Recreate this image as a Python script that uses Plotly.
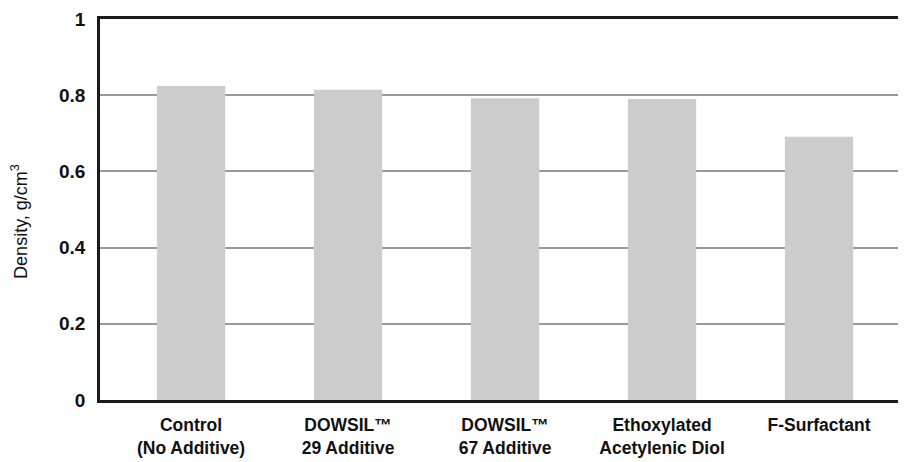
import plotly.graph_objects as go

categories = ["Control<br>(No Additive)", "DOWSIL™<br>29 Additive", "DOWSIL™<br>67 Additive",
              "Ethoxylated<br>Acetylenic Diol", "F-Surfactant"]
density = [0.824, 0.814, 0.792, 0.790, 0.691]
y_ticks = [0, 0.2, 0.4, 0.6, 0.8, 1]
y_tick_labels = ["0", "0.2", "0.4", "0.6", "0.8", "1"]
y_title = "Density, g/cm<sup>3</sup>"

font_fam = "Liberation Sans Narrow, Liberation Sans, Arial"

fig = go.Figure(go.Bar(x=categories, y=density, marker_color="#cccccc",
                       marker_line_width=0, width=0.435))

fig.update_layout(
    width=898, height=454,
    margin=dict(l=92, r=0, t=11, b=62),
    plot_bgcolor="white", paper_bgcolor="white",
    showlegend=False,
    font=dict(family=font_fam, color="#111111"),
)
fig.update_xaxes(
    range=[-0.58, 4.554], showline=True, linecolor="#1a1a1a", linewidth=2.5, mirror=True,
    showgrid=False, ticks="", ticklabelstandoff=7,
    tickfont=dict(size=17.5, family=font_fam, weight="bold"),
)
fig.update_yaxes(
    range=[0, 1], tickvals=y_ticks, ticktext=y_tick_labels,
    showline=True, linecolor="#1a1a1a", linewidth=2.5,
    showgrid=True, gridcolor="#999999", gridwidth=2, zeroline=False,
    ticks="", ticklen=0, ticklabelstandoff=8,
    tickfont=dict(size=19, family=font_fam, weight="bold"),
)
fig.add_annotation(
    text=y_title, xref="paper", yref="paper", x=-0.0993, y=0.47,
    xanchor="center", yanchor="middle", textangle=-90, showarrow=False,
    font=dict(size=18, family="Liberation Sans, Arial", color="#111111"),
)
fig.write_html("out.html")
